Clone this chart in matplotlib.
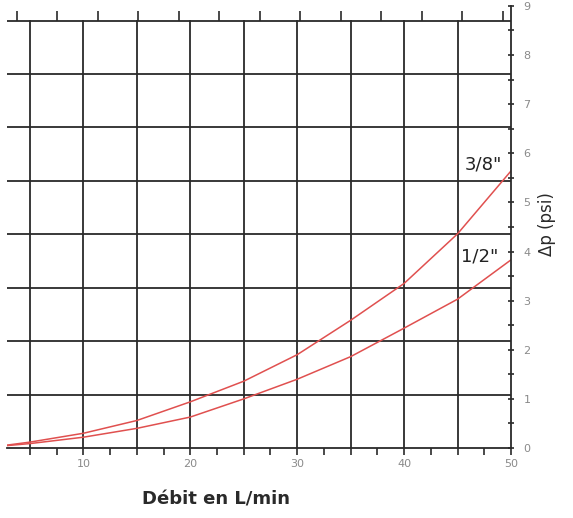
import numpy as np
import matplotlib
matplotlib.use('Agg')
import matplotlib.pyplot as plt
from matplotlib.ticker import MultipleLocator, FixedLocator, NullFormatter

# flow (L/min) and pressure drop (psi)
debit = [2.9, 5, 10, 15, 20, 25, 30, 35, 40, 45, 50]
dp_38 = [0.06, 0.12, 0.30, 0.56, 0.94, 1.36, 1.90, 2.60, 3.35, 4.36, 5.64]
dp_12 = [0.05, 0.09, 0.22, 0.40, 0.63, 1.00, 1.40, 1.86, 2.44, 3.03, 3.83]

x_labels = [10, 20, 30, 40, 50]
kpa_grid = [7.5, 15, 22.5, 30, 37.5, 45, 52.5, 60]
gpm_ticks = list(range(1, 14))

PSI_KPA = 6.894757
L_GAL = 3.785411784

fig = plt.figure(figsize=(5.73, 5.18), dpi=100)
ax = fig.add_axes([7 / 573, 70 / 518, 504 / 573, 448 / 518])

ax.set_xlim(2.85, 50)
ax.set_ylim(0, 9.12)

red = '#e0504f'
ax.plot(debit, dp_38, color=red, lw=1.1)
ax.plot(debit, dp_12, color=red, lw=1.1)

grid_c = '#2a2a2a'
for v in range(5, 50, 5):
    ax.axvline(v, ymax=(60 / PSI_KPA) / 9.12, color=grid_c, lw=1.3, zorder=1)
for k in kpa_grid:
    ax.axhline(k / PSI_KPA, color=grid_c, lw=1.3, zorder=1)

for s in ['left', 'top']:
    ax.spines[s].set_visible(False)
ax.spines['right'].set_bounds(0, 9)
ax.spines['right'].set_color(grid_c)
ax.spines['right'].set_linewidth(1.3)
ax.spines['bottom'].set_color(grid_c)
ax.spines['bottom'].set_linewidth(1.3)

ax.xaxis.set_major_locator(FixedLocator(x_labels))
ax.xaxis.set_minor_locator(MultipleLocator(2.5))
ax.tick_params(axis='x', which='both', direction='out', length=5, width=1.2,
               color=grid_c, labelsize=8, labelcolor='#8a8a8a', pad=3)

ax.yaxis.tick_right()
ax.yaxis.set_label_position('right')
ax.yaxis.set_major_locator(MultipleLocator(1))
ax.yaxis.set_minor_locator(MultipleLocator(0.5))
ax.tick_params(axis='y', which='both', direction='inout', length=4, width=1.2,
               color=grid_c, labelsize=8, labelcolor='#8a8a8a', pad=7)

# gallon/min scale on the top line (labels cropped off)
top = ax.secondary_xaxis((60 / PSI_KPA) / 9.12,
                         functions=(lambda q: q / L_GAL, lambda g: g * L_GAL))
top.xaxis.set_major_locator(FixedLocator(gpm_ticks))
top.xaxis.set_major_formatter(NullFormatter())
top.tick_params(direction='out', length=7, width=1.2, color=grid_c)
top.spines['top'].set_visible(False)

ax.set_xlabel('Débit en L/min', fontsize=13, fontweight='bold', color='#2a2a2a')
ax.xaxis.set_label_coords((216 - 7) / 504, -42 / 448)
ax.set_ylabel('Δp (psi)', fontsize=12, color='#2a2a2a', labelpad=5)

ax.text(47.4, 5.78, '3/8"', fontsize=13, color='#222222', ha='center', va='center')
ax.text(47.1, 3.9, '1/2"', fontsize=13, color='#222222', ha='center', va='center')

fig.savefig('out.png', dpi=100)
